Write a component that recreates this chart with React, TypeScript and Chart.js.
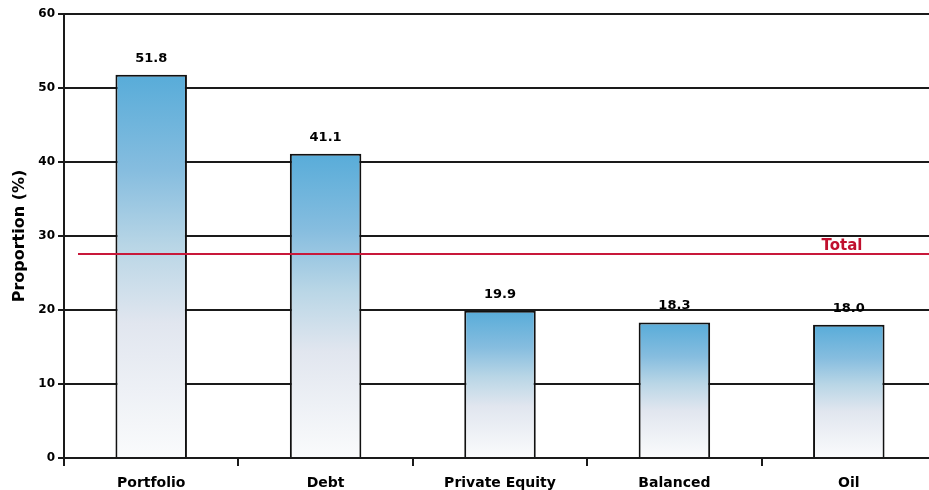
import React, { useEffect, useRef } from "react";
import { Chart, registerables } from "chart.js";

Chart.register(...registerables);

const categories = ["Portfolio", "Debt", "Private Equity", "Balanced", "Oil"];
const values = [51.8, 41.1, 19.9, 18.3, 18.0];
const averageValue = 27.6;
const averageLabel = "Total";
const yTicks = [0, 10, 20, 30, 40, 50, 60];
const yTitle = "Proportion (%)";

const FONT = "'DejaVu Sans', Verdana, sans-serif";

export default function App() {
  const ref = useRef<HTMLCanvasElement | null>(null);

  useEffect(() => {
    document.body.style.margin = "0";
    const canvas = ref.current;
    if (!canvas) return;

    const overlay = {
      id: "overlay",
      afterDatasetsDraw(chart: any) {
        const ctx = chart.ctx;
        const y = chart.scales.y;
        const area = chart.chartArea;
        const py = Math.round(y.getPixelForValue(averageValue));
        ctx.save();
        ctx.strokeStyle = "#c8183a";
        ctx.lineWidth = 2;
        ctx.beginPath();
        ctx.moveTo(area.left + 14, py);
        ctx.lineTo(chart.width, py);
        ctx.stroke();
        ctx.fillStyle = "#c0102e";
        ctx.font = `bold 15px ${FONT}`;
        ctx.textAlign = "center";
        ctx.textBaseline = "bottom";
        ctx.fillText(averageLabel, 842, py);
        const meta = chart.getDatasetMeta(0);
        ctx.fillStyle = "#000";
        ctx.font = `bold 13px ${FONT}`;
        meta.data.forEach((el: any, i: number) => {
          ctx.fillText(values[i].toFixed(1), el.x, el.y - 10);
        });
        ctx.restore();
      },
    };

    const chart = new Chart(canvas, {
      type: "bar",
      data: {
        labels: categories,
        datasets: [
          {
            data: values,
            borderColor: "#111",
            borderWidth: 2,
            barPercentage: 0.41,
            categoryPercentage: 1,
            backgroundColor: (c: any) => {
              const ch = c.chart;
              const ys = ch.scales && ch.scales.y;
              if (!ys || !ch.chartArea || c.raw === undefined) return "#8cc0e0";
              const top = ys.getPixelForValue(c.raw);
              const bot = ys.getPixelForValue(0);
              if (!isFinite(top) || !isFinite(bot) || bot - top < 1) return "#8cc0e0";
              const g = ch.ctx.createLinearGradient(0, top, 0, bot);
              g.addColorStop(0, "#58acd9");
              g.addColorStop(0.25, "#86bddf");
              g.addColorStop(0.45, "#b9d6e6");
              g.addColorStop(0.65, "#e1e6ef");
              g.addColorStop(1, "#fafbfc");
              return g;
            },
          },
        ],
      },
      options: {
        animation: false,
        responsive: false,
        maintainAspectRatio: false,
        layout: { padding: { top: 14, left: 0, right: 0, bottom: 0 } },
        plugins: { legend: { display: false }, tooltip: { enabled: false } },
        scales: {
          x: {
            offset: true,
            grid: {
              offset: true,
              drawOnChartArea: false,
              drawTicks: true,
              tickLength: 8,
              color: "#1a1a1a",
              lineWidth: 2,
            },
            border: { display: true, color: "#1a1a1a", width: 2 },
            ticks: {
              color: "#000",
              padding: 9,
              font: { family: FONT, size: 14, weight: "bold" },
              maxRotation: 0,
              autoSkip: false,
            },
            afterFit: (s: any) => {
              s.height = 32;
            },
          },
          y: {
            min: 0,
            max: 60,
            afterBuildTicks: (s: any) => {
              s.ticks = yTicks.map((v) => ({ value: v }));
            },
            grid: {
              color: "#1a1a1a",
              lineWidth: 2,
              drawTicks: true,
              tickLength: 6,
            },
            border: { display: true, color: "#1a1a1a", width: 2 },
            ticks: {
              color: "#000",
              padding: 3,
              font: { family: FONT, size: 12, weight: "bold" },
            },
            title: {
              display: true,
              text: yTitle,
              color: "#000",
              padding: { top: 10, bottom: 4 },
              font: { family: FONT, size: 16, weight: "bold" },
            },
            afterFit: (s: any) => {
              s.width = 64;
            },
          },
        },
      },
      plugins: [overlay],
    } as any);

    return () => chart.destroy();
  }, []);

  return (
    <div style={{ position: "absolute", left: 0, top: 0, width: 929, height: 490, overflow: "hidden" }}>
      <canvas ref={ref} width={936} height={490} style={{ width: 936, height: 490, display: "block" }} />
    </div>
  );
}
